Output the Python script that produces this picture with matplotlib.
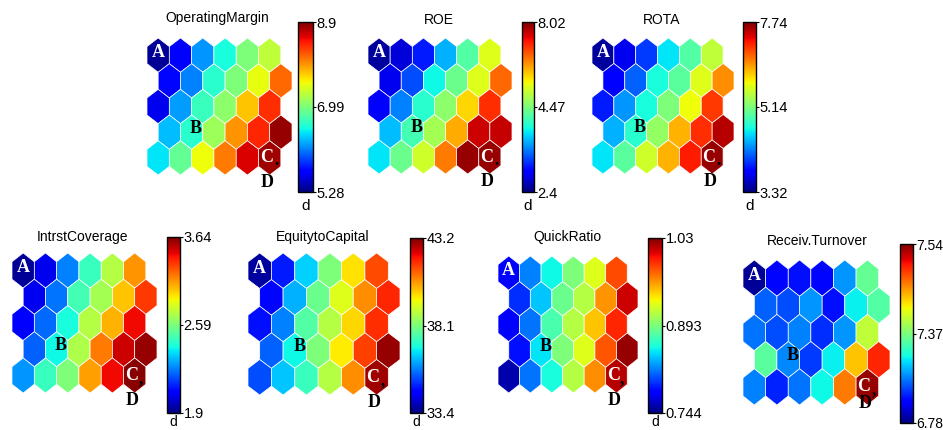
import numpy as np
import matplotlib
matplotlib.use("Agg")
import matplotlib.pyplot as plt
from matplotlib.collections import PolyCollection
from matplotlib.colors import Normalize
from matplotlib.cm import ScalarMappable

plt.rcParams['font.family'] = ['Liberation Sans', 'DejaVu Sans']

W, H = 943, 430

# component planes (normalised 0..1 level of each SOM unit, 5 rows x 6 cols, top row first)
titles = ['OperatingMargin', 'ROE', 'ROTA', 'IntrstCoverage',
          'EquitytoCapital', 'QuickRatio', 'Receiv.Turnover']

operating_margin = [[0.02, 0.12, 0.27, 0.38, 0.50, 0.58],
                    [0.13, 0.25, 0.40, 0.50, 0.63, 0.80],
                    [0.10, 0.28, 0.42, 0.52, 0.70, 0.86],
                    [0.31, 0.40, 0.54, 0.75, 0.87, 0.98],
                    [0.35, 0.47, 0.64, 0.78, 0.92, 0.97]]
roe = [[0.03, 0.08, 0.15, 0.30, 0.45, 0.62],
       [0.10, 0.20, 0.37, 0.48, 0.62, 0.80],
       [0.12, 0.25, 0.40, 0.52, 0.68, 0.86],
       [0.31, 0.43, 0.55, 0.73, 0.93, 0.94],
       [0.35, 0.48, 0.60, 0.78, 0.98, 0.98]]
rota = [[0.03, 0.10, 0.18, 0.35, 0.45, 0.58],
        [0.12, 0.22, 0.38, 0.46, 0.62, 0.76],
        [0.15, 0.27, 0.38, 0.50, 0.64, 0.85],
        [0.30, 0.40, 0.53, 0.72, 0.86, 0.95],
        [0.35, 0.46, 0.60, 0.72, 0.88, 0.98]]
intrst_coverage = [[0.02, 0.10, 0.25, 0.42, 0.57, 0.75],
                   [0.10, 0.24, 0.43, 0.55, 0.70, 0.85],
                   [0.12, 0.23, 0.38, 0.57, 0.72, 0.90],
                   [0.22, 0.37, 0.56, 0.78, 0.93, 0.98],
                   [0.27, 0.42, 0.50, 0.74, 0.90, 0.99]]
equity_to_capital = [[0.03, 0.15, 0.33, 0.50, 0.67, 0.83],
                     [0.13, 0.30, 0.48, 0.62, 0.76, 0.87],
                     [0.14, 0.25, 0.45, 0.57, 0.68, 0.86],
                     [0.22, 0.37, 0.50, 0.66, 0.84, 0.98],
                     [0.20, 0.32, 0.42, 0.57, 0.76, 0.97]]
quick_ratio = [[0.12, 0.25, 0.37, 0.50, 0.62, 0.83],
               [0.17, 0.32, 0.48, 0.57, 0.75, 0.93],
               [0.12, 0.24, 0.44, 0.57, 0.70, 0.87],
               [0.14, 0.35, 0.50, 0.62, 0.82, 0.98],
               [0.04, 0.24, 0.38, 0.57, 0.76, 0.95]]
receiv_turnover = [[0.02, 0.13, 0.14, 0.13, 0.27, 0.47],
                   [0.22, 0.20, 0.27, 0.14, 0.36, 0.45],
                   [0.24, 0.20, 0.25, 0.17, 0.27, 0.58],
                   [0.46, 0.26, 0.18, 0.36, 0.70, 0.87],
                   [0.25, 0.16, 0.24, 0.37, 0.78, 0.98]]
planes = [operating_margin, roe, rota, intrst_coverage,
          equity_to_capital, quick_ratio, receiv_turnover]

# colorbar labels (min, middle, max)
cbar_labels = [['5.28', '6.99', '8.9'], ['2.4', '4.47', '8.02'], ['3.32', '5.14', '7.74'],
               ['1.9', '2.59', '3.64'], ['33.4', '38.1', '43.2'], ['0.744', '0.893', '1.03'],
               ['6.78', '7.37', '7.54']]

# pixel boxes: hex grid (x0, x1, y0, y1) and colorbar
grid_px = [(147, 292, 38, 175), (368, 512, 38, 174), (592, 734, 38, 174),
           (12, 157, 253, 393), (248, 400, 253, 395), (498, 638, 256, 393),
           (743, 890, 260, 405)]
cbar_px = [(298, 313, 22, 192), (522, 534, 22, 192), (743, 756, 22, 192),
           (167, 180, 237, 413), (410, 423, 238, 413), (648, 662, 238, 413),
           (900, 913, 244, 423)]
title_px = [(217, 18), (439, 20), (662, 20), (83, 237), (323, 237), (567, 237), (817, 241)]
punct = ['.', '.', '.', ',', ',', ',', ',']
d_y = [-4.95, -4.95, -4.95, -4.95, -4.95, -4.95, -4.6]
tick_size = [10.5, 10.5, 10.5, 10.5, 10.5, 10.5, 10]
show_d = [True, True, True, True, True, True, False]


def box(x0, x1, y0, y1):
    return [x0 / W, 1 - y1 / H, (x1 - x0) / W, (y1 - y0) / H]


def hexagon(cx, cy):
    return [(cx, cy + 2 / 3), (cx + 0.5, cy + 1 / 3), (cx + 0.5, cy - 1 / 3),
            (cx, cy - 2 / 3), (cx - 0.5, cy - 1 / 3), (cx - 0.5, cy + 1 / 3)]


fig = plt.figure(figsize=(W / 100, H / 100), dpi=100)
norm = Normalize(0, 1)
letter_font = dict(family='Liberation Serif', fontweight='bold', fontsize=13,
                   ha='center', va='center')

for i, plane in enumerate(planes):
    vals = np.array(plane)
    ax = fig.add_axes(box(*grid_px[i]))
    polys, colors = [], []
    for r in range(vals.shape[0]):
        for c in range(vals.shape[1]):
            polys.append(hexagon(c + 0.5 * (r % 2), -r))
            colors.append(vals[r, c])
    pc = PolyCollection(polys, cmap='jet', norm=norm, edgecolors='white', linewidths=0.5)
    pc.set_array(np.array(colors))
    ax.add_collection(pc)
    ax.set_xlim(-0.5, 6.0)
    ax.set_ylim(-4 - 2 / 3, 2 / 3)
    ax.axis('off')

    ax.text(0, 0.1, 'A', color='white', **letter_font)
    ax.text(1.7, -2.85, 'B', color='black', **letter_font)
    ax.text(4.85, -4.0, 'C', color='white', **letter_font)
    ax.text(5.28, -4.12, punct[i], color='black', **letter_font)
    ax.text(4.9, d_y[i], 'D', color='black', **letter_font)

    tx, ty = title_px[i]
    fig.text(tx / W, 1 - ty / H, titles[i], fontsize=10, ha='center', va='center')

    cax = fig.add_axes(box(*cbar_px[i]))
    cb = fig.colorbar(ScalarMappable(norm=norm, cmap='jet'), cax=cax)
    cb.set_ticks([0, 0.5, 1])
    cb.set_ticklabels(cbar_labels[i])
    cb.outline.set_linewidth(1)
    cax.tick_params(labelsize=tick_size[i], length=2, width=0.8, pad=0.5)

    x0, x1, y0, y1 = cbar_px[i]
    if show_d[i]:
        if y1 < 300:
            fig.text((x0 + x1) / 2 / W, 1 - (y1 + 14) / H, 'd', fontsize=11,
                     ha='center', va='center')
        else:
            fig.text((x0 + x1) / 2 / W, 0.003, 'd', fontsize=10,
                     ha='center', va='bottom')

fig.savefig('out.png', dpi=100)
